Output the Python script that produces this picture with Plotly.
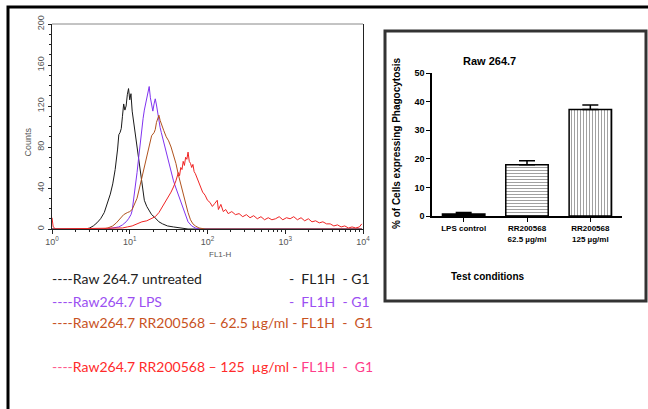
import plotly.graph_objects as go

# ---- flow cytometry histogram (FL1-H channels, 64 channels per decade) ----
untreated_ch = [0, 28, 31, 34, 37, 40, 43, 46, 48, 50, 52, 54, 55, 56, 57, 58, 59, 60, 61, 62, 63, 64, 65, 66, 67,
                68, 69, 70, 71, 72, 73, 74, 75, 76, 78, 80, 82, 84, 86, 88, 91, 95, 100, 106, 112, 255]
untreated_counts = [0, 0, 1, 3, 6, 10, 16, 27, 34, 44, 58, 78, 92, 94, 98, 110, 122, 116, 120, 131, 137, 126, 132, 115, 106,
                    96, 90, 80, 70, 60, 50, 42, 36, 28, 22, 18, 14, 12, 9, 7, 5, 3, 2, 1, 0, 0]

lps_ch = [0, 45, 50, 55, 58, 61, 63, 65, 66, 67, 68, 69, 70, 71, 72, 73, 74, 75, 76, 77, 78, 79, 80, 81, 82, 83, 84,
          85, 86, 87, 88, 89, 90, 92, 94, 96, 98, 100, 102, 104, 106, 108, 110, 112, 115, 118, 122, 255]
lps_counts = [0, 0, 1, 2, 4, 7, 10, 14, 18, 26, 35, 44, 55, 66, 78, 88, 99, 108, 116, 121, 128, 134, 139, 128, 120, 115, 122,
              127, 121, 113, 104, 99, 94, 84, 75, 66, 55, 47, 40, 33, 26, 19, 12, 7, 3, 1, 0, 0]

rr62_ch = [0, 42, 46, 50, 53, 56, 59, 62, 64, 66, 68, 70, 72, 74, 76, 78, 80, 82, 84, 85, 86, 87, 88, 89, 90, 92, 94,
           96, 98, 100, 102, 104, 106, 108, 110, 112, 114, 116, 118, 121, 126, 255]
rr62_counts = [0, 0, 1, 3, 6, 10, 14, 16, 17, 19, 24, 30, 40, 50, 61, 72, 83, 91, 94, 97, 104, 108, 111, 106, 102, 96, 90,
               86, 80, 72, 64, 53, 44, 34, 24, 16, 9, 5, 3, 1, 0, 0]

rr125_ch = [0, 1, 3, 58, 62, 66, 70, 74, 78, 82, 85, 88, 90, 92, 94, 96, 98, 100, 102, 104, 105, 106, 107, 108, 109, 110,
            111, 112, 113, 114, 115, 116, 117, 118, 120, 122, 124, 126, 128, 130, 132, 134, 136, 137, 139, 141, 143,
            145, 148, 151, 154, 157, 160, 163, 166, 169, 172, 175, 178, 181, 184, 187, 190, 193, 196, 199, 202, 205,
            208, 211, 214, 217, 220, 223, 226, 229, 232, 235, 238, 241, 244, 247, 250, 253, 255]
rr125_counts = [11, 2, 0, 1, 2, 3, 5, 7, 8, 10, 12, 16, 20, 24, 27, 31, 36, 41, 47, 55, 52, 60, 58, 66, 62, 70,
                68, 75, 66, 64, 60, 63, 56, 54, 48, 42, 36, 33, 28, 26, 22, 25, 28, 19, 24, 17, 19,
                15, 17, 14, 15, 12, 14, 11, 13, 10, 12, 9, 11, 9, 10, 12, 9, 11, 10, 12, 9, 11,
                8, 10, 7, 8, 6, 7, 5, 5, 3, 4, 2, 3, 1, 2, 1, 2, 5]

# ---- bar chart ----
conditions = ['LPS control', 'RR200568<br>62.5 µg/ml', 'RR200568<br>125 µg/ml']
phago_pct = [0.7, 17.9, 37.2]
phago_err = [0.5, 1.4, 1.6]

W, H = 648, 409


def px(x):
    return x / W


def py(y):
    return 1 - y / H


def to_fl1h(channels):
    return [10 ** (c / 64) for c in channels]


fig = go.Figure()

hist_series = [
    (untreated_ch, untreated_counts, '#1a1a1a'),
    (lps_ch, lps_counts, '#8033f0'),
    (rr62_ch, rr62_counts, '#b0531e'),
    (rr125_ch, rr125_counts, '#f02424'),
]
for ch, counts, col in hist_series:
    fig.add_trace(go.Scatter(x=to_fl1h(ch), y=counts, mode='lines', hoverinfo='skip',
                             line=dict(color=col, width=1), xaxis='x', yaxis='y'))

fig.add_trace(go.Bar(
    x=conditions, y=phago_pct, xaxis='x2', yaxis='y2', width=0.67, hoverinfo='skip',
    marker=dict(color=['black', 'white', 'white'],
                line=dict(color='black', width=1.5),
                pattern=dict(shape=['', '-', '|'], fgcolor='black', bgcolor='white',
                             size=3, solidity=0.35)),
    error_y=dict(type='data', symmetric=False, array=phago_err, arrayminus=[0, 0, 0],
                 color='black', thickness=1.5, width=8),
))

gray = '#555555'
afont = dict(family='Arial, Liberation Sans', size=9, color=gray)
minor_log = [m * 10 ** d for d in range(4) for m in range(2, 10)]

fig.update_layout(
    width=W, height=H,
    margin=dict(l=0, r=0, t=0, b=0, autoexpand=False),
    paper_bgcolor='white', plot_bgcolor='white',
    showlegend=False,
    xaxis=dict(domain=[px(52), px(363)], type='log', range=[0, 4], automargin=False,
               tickvals=[1, 10, 100, 1000, 10000],
               ticktext=['10<sup>0</sup>', '10<sup>1</sup>', '10<sup>2</sup>', '10<sup>3</sup>', '10<sup>4</sup>'],
               ticks='outside', ticklen=4, tickcolor='#222',
               minor=dict(tickvals=minor_log, ticks='outside', ticklen=2, tickcolor='#222'),
               showline=True, linecolor='#222', linewidth=1,
               showgrid=False, zeroline=False, tickfont=afont, anchor='y'),
    yaxis=dict(domain=[py(229), py(24)], range=[0, 200], tickvals=[0, 40, 80, 120, 160, 200], automargin=False,
               tickangle=-90, ticks='outside', ticklen=3, tickcolor='#222',
               minor=dict(dtick=10, ticks='outside', ticklen=2, tickcolor='#222'),
               showline=True, linecolor='#222', linewidth=1, mirror=True,
               showgrid=False, zeroline=False, tickfont=afont, anchor='x'),
    xaxis2=dict(domain=[px(432), px(622)], range=[-0.5, 2.5], type='category', automargin=False,
                ticks='outside', ticklen=4, tickcolor='black', tickwidth=1.2,
                showline=True, linecolor='black', linewidth=1.5,
                showgrid=False, zeroline=False, anchor='y2',
                tickfont=dict(family='Arial, Liberation Sans', size=8, color='black', weight='bold')),
    yaxis2=dict(domain=[py(216), py(73)], range=[0, 50], dtick=10, automargin=False,
                ticks='outside', ticklen=4, tickcolor='black', tickwidth=1.2,
                showline=True, linecolor='black', linewidth=1.5,
                showgrid=False, zeroline=False, anchor='x2',
                tickfont=dict(family='Arial, Liberation Sans', size=9, color='black', weight='bold')),
)

# frames
fig.add_shape(type='line', xref='paper', yref='paper', x0=px(52), x1=px(363), y0=py(24), y1=py(24),
              line=dict(color='#888888', width=1))
fig.add_shape(type='rect', xref='paper', yref='paper', x0=px(8), x1=1.05, y0=-0.05, y1=py(7),
              line=dict(color='black', width=3))
fig.add_shape(type='rect', xref='paper', yref='paper', x0=px(385), x1=px(646), y0=py(301), y1=py(31),
              line=dict(color='#333333', width=3))

ann = []
ann.append(dict(text='Counts', x=px(27), y=py(126), xanchor='center', textangle=-90, font=afont))
ann.append(dict(text='FL1-H', x=px(207), y=py(254), font=dict(family='Arial, Liberation Sans', size=8, color=gray)))

bfont = dict(family='Arial, Liberation Sans', color='black', weight='bold')
ann.append(dict(text='Raw 264.7', x=px(518), y=py(53), font=dict(size=11, **bfont)))
ann.append(dict(text='% of Cells expressing Phagocytosis', x=px(396), y=py(143), textangle=-90,
                font=dict(size=10, **bfont)))
ann.append(dict(text='Test conditions', x=px(527), y=py(284), font=dict(size=10, **bfont)))

# legend text under the histogram
lfont = 'Lato, Noto Sans, sans-serif'
nb = '\u00a0'
legend_left = [
    ('----Raw 264.7 untreated', '#222222', 289),
    ('----Raw264.7 LPS', '#9b4ff2', 312),
]
for txt, col, yy in legend_left:
    ann.append(dict(text=txt, x=px(50), y=py(yy), xanchor='left', font=dict(family=lfont, size=14, color=col)))
    ann.append(dict(text='-' + nb * 2 + 'FL1H' + nb * 2 + '- G1', x=px(372), y=py(yy), xanchor='right',
                    font=dict(family=lfont, size=14, color=col)))
ann.append(dict(text='----Raw264.7 RR200568 – 62.5 µg/ml - FL1H' + nb * 2 + '-' + nb * 2 + 'G1',
                x=px(50), y=py(333), xanchor='left', font=dict(family=lfont, size=14, color='#c8521e')))
ann.append(dict(text='<span style="color:#ff5c8c">----</span>'
                     '<span style="color:#ff2a2a">Raw264.7 RR200568 – 125' + nb * 2 + 'µg/ml - </span>'
                     '<span style="color:#ff3d8b">FL1H' + nb * 2 + '-' + nb * 2 + 'G1</span>',
                x=px(50), y=py(377), xanchor='left', font=dict(family=lfont, size=14, color='#ff2a2a')))

for a in ann:
    a.setdefault('xref', 'paper')
    a.setdefault('yref', 'paper')
    a.setdefault('showarrow', False)
    fig.add_annotation(**a)

# page body has a default 8px margin; drop it so the figure sits at the window origin
fig.write_html('out.html', config={'displayModeBar': False},
               post_script="document.body.style.margin='0px';")
